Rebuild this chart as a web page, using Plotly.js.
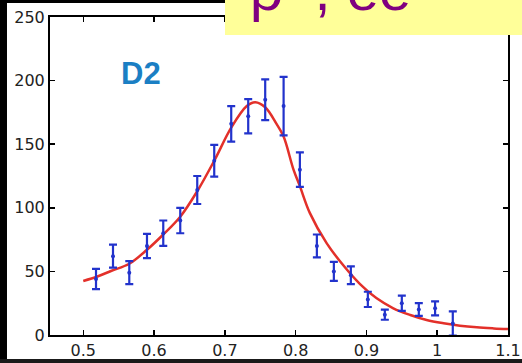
<!DOCTYPE html>
<html>
<head>
<meta charset="utf-8">
<script src="https://cdn.plot.ly/plotly-3.0.1.min.js"></script>
<style>
  html, body { margin: 0; padding: 0; background: #ffffff; }
  #chart { width: 522px; height: 363px; }
</style>
</head>
<body>
<div id="chart"></div>
<script>
// Measured invariant-mass bins (GeV) with counts and statistical errors
var massBins = [0.518, 0.542, 0.565, 0.590, 0.613, 0.637, 0.661, 0.685, 0.709, 0.733, 0.757,
                0.783, 0.806, 0.830, 0.854, 0.878, 0.902, 0.926, 0.950, 0.974, 0.997, 1.022];
var counts   = [44, 62, 49, 70, 80, 90, 114, 137, 166, 172, 185,
                180, 130, 70, 50, 47, 28, 16, 25, 20, 21, 9];
var countErr = [8, 9, 9, 9.5, 10, 10, 11, 12.5, 14, 13.5, 16,
                23, 13.5, 9, 7.5, 7, 6, 4, 6, 5, 5.5, 9.5];

// Fitted line shape
var fitMass = [0.500, 0.520, 0.540, 0.565, 0.590, 0.613, 0.637, 0.661, 0.685, 0.709, 0.731,
               0.743, 0.757, 0.773, 0.783, 0.797, 0.806, 0.820, 0.844, 0.867, 0.891, 0.914,
               0.938, 0.962, 0.985, 1.009, 1.032, 1.056, 1.080, 1.100];
var fitCounts = [42.5, 46, 50.5, 56, 67, 79, 93, 113, 137, 163, 180,
                 183, 179, 166, 156, 130, 117, 96, 72, 55, 40, 29,
                 21, 15.7, 11.8, 9.2, 7.3, 6, 5.2, 4.7];

var xTicks = [0.5, 0.6, 0.7, 0.8, 0.9, 1.0, 1.1];
var xTickText = ['0.5', '0.6', '0.7', '0.8', '0.9', '1', '1.1'];
var yTicks = [0, 50, 100, 150, 200, 250];

var panelLabel = 'D2';
var headerText = 'ρ\u2070\u2009, ee';

var traces = [
  {
    x: fitMass, y: fitCounts, type: 'scatter', mode: 'lines',
    line: { color: '#e3302a', width: 2.5, shape: 'spline', smoothing: 1 },
    hoverinfo: 'skip'
  },
  {
    x: massBins, y: counts, type: 'scatter', mode: 'markers',
    marker: { color: '#2233cc', size: 4, symbol: 'circle' },
    error_y: { type: 'data', array: countErr, visible: true,
               color: '#2233cc', thickness: 2.2, width: 4 }
  }
];

var axisCommon = {
  showline: true, linecolor: '#000000', linewidth: 2, mirror: 'ticks',
  ticks: 'inside', ticklen: 5, tickwidth: 1.5, tickcolor: '#000000',
  showgrid: false, zeroline: false,
  tickfont: { family: 'DejaVu Sans', size: 16, color: '#222222' }
};

var layout = {
  width: 522, height: 363,
  margin: { l: 50, r: 14, t: 17, b: 28 },
  paper_bgcolor: '#ffffff', plot_bgcolor: '#ffffff',
  showlegend: false,
  xaxis: Object.assign({}, axisCommon, {
    range: [0.453, 1.1], tickmode: 'array', tickvals: xTicks, ticktext: xTickText
  }),
  yaxis: Object.assign({}, axisCommon, {
    range: [0, 250], tickmode: 'array', tickvals: yTicks
  }),
  shapes: [
    // dark frame around the page
    { type: 'rect', xref: 'paper', yref: 'paper', x0: -0.1092, x1: -0.0939, y0: -0.09, y1: 1.06,
      fillcolor: '#000000', line: { width: 0 }, layer: 'above' },
    { type: 'rect', xref: 'paper', yref: 'paper', x0: -0.1092, x1: 1.031, y0: 1.044, y1: 1.06,
      fillcolor: '#000000', line: { width: 0 }, layer: 'above' },
    { type: 'rect', xref: 'paper', yref: 'paper', x0: -0.1092, x1: 1.031, y0: -0.09, y1: -0.0755,
      fillcolor: '#1a1a1a', line: { width: 0 }, layer: 'above' },
    // header banner
    { type: 'rect', xref: 'paper', yref: 'paper', x0: 0.3821, x1: 1.031, y0: 0.9434, y1: 1.06,
      fillcolor: '#ffff99', line: { width: 0 }, layer: 'above' }
  ],
  annotations: [
    { text: panelLabel, xref: 'paper', yref: 'paper', x: 0.1987, y: 0.8208,
      xanchor: 'center', yanchor: 'middle', showarrow: false,
      font: { family: 'Liberation Sans', size: 31, color: '#1b7fc4', weight: 'bold' } },
    { text: headerText, xref: 'paper', yref: 'paper', x: 0.432, y: 0.978,
      xanchor: 'left', yanchor: 'bottom', showarrow: false,
      font: { family: 'Liberation Sans', size: 58, color: '#800080' } }
  ]
};

Plotly.newPlot('chart', traces, layout, { displayModeBar: false, staticPlot: true });
</script>
</body>
</html>
